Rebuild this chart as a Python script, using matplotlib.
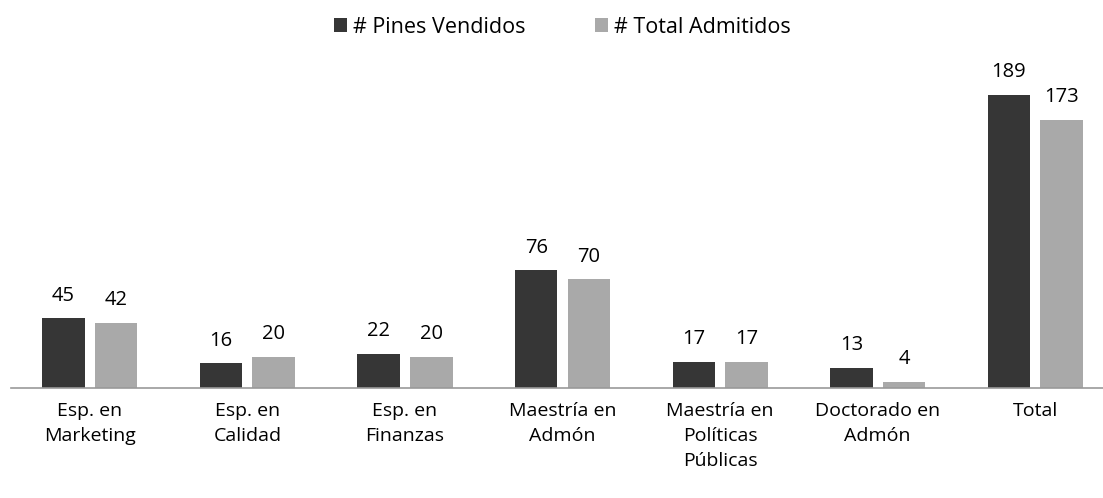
import numpy as np
import matplotlib.pyplot as plt

plt.rcParams['font.family'] = ['Open Sans', 'DejaVu Sans']

categorias = ["Esp. en\nMarketing", "Esp. en\nCalidad", "Esp. en\nFinanzas",
              "Maestría en\nAdmón", "Maestría en\nPolíticas\nPúblicas",
              "Doctorado en\nAdmón", "Total"]
pines_vendidos = [45, 16, 22, 76, 17, 13, 189]
total_admitidos = [42, 20, 20, 70, 17, 4, 173]

x = np.arange(len(categorias))
ancho = 0.27

fig = plt.figure(figsize=(11.03, 4.98), dpi=100)
ax = fig.add_axes([0.01, 0.221, 0.99, 0.66])

b1 = ax.bar(x - 0.167, pines_vendidos, ancho, color="#363636", label="# Pines Vendidos")
b2 = ax.bar(x + 0.167, total_admitidos, ancho, color="#a9a9a9", label="# Total Admitidos")

for barras in (b1, b2):
    ax.bar_label(barras, padding=9, fontsize=14.5, color="black")

ax.set_xlim(-0.5, 6.43)
ax.set_ylim(0, 212)
ax.set_xticks(x)
ax.set_xticklabels(categorias, fontsize=14, linespacing=1.5)
ax.tick_params(axis="x", length=0, pad=10)
ax.set_yticks([])
for s in ["top", "right", "left"]:
    ax.spines[s].set_visible(False)
ax.spines["bottom"].set_color("#999999")
ax.spines["bottom"].set_linestyle((0, (1, 1)))
ax.spines["bottom"].set_linewidth(1.2)

fig.legend(loc="upper center", bbox_to_anchor=(0.51, 1.005), ncol=2, frameon=False,
           fontsize=15.5, handlelength=0.6, handleheight=0.6, handletextpad=0.3,
           columnspacing=3.2)

fig.savefig("out.png", dpi=100)
